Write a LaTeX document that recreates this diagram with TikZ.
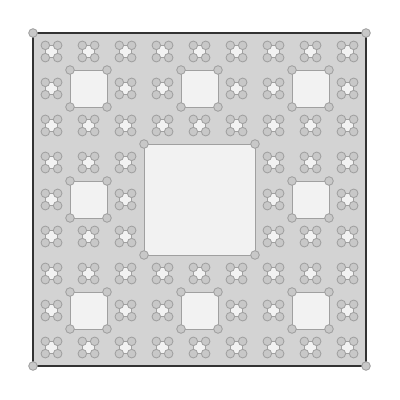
\documentclass[tikz,border=0pt]{standalone}
\usepackage{tikz}
\definecolor{carpetgray}{HTML}{D3D3D3}
\definecolor{holegray}{HTML}{F2F2F2}
\definecolor{dotgray}{HTML}{C8C8C8}
\definecolor{edgegray}{HTML}{A0A0A0}
% one hole of the carpet: lower left corner (#1,#2), side #3
\newcommand\carpethole[3]{%
  \draw[hole] (#1,#2) rectangle ++(#3,#3);
  \foreach \cx/\cy in {0/0,1/0,0/1,1/1}
    \draw[vertex] (#1+\cx*#3,#2+\cy*#3) circle (4.3);
}
\begin{document}
\begin{tikzpicture}[x=0.025cm,y=-0.025cm,
carpet/.style={fill=carpetgray, draw=black!80, line width=0.8pt},
hole/.style={fill=holegray, draw=edgegray, line width=0.7pt},
vertex/.style={fill=dotgray, draw=edgegray, line width=0.6pt}
]
\useasboundingbox (0,0) rectangle (400,400);
% Outer square
\draw[carpet] (33,33) rectangle (366,366);
\foreach \cx/\cy in {33/33,366/33,33/366,366/366}
  \draw[vertex] (\cx,\cy) circle (4.3);
% Level 1
\carpethole{144}{144}{111}
% Level 2 and level 3
\foreach \i in {0,1,2}{
  \foreach \j in {0,1,2}{
    \ifnum\numexpr\i*3+\j\relax=4 \else
      \pgfmathsetmacro\bx{33+111*\i}
      \pgfmathsetmacro\by{33+111*\j}
      \carpethole{\bx+37}{\by+37}{37}
      \foreach \k in {0,1,2}{
        \foreach \l in {0,1,2}{
          \ifnum\numexpr\k*3+\l\relax=4 \else
            \carpethole{\bx+37*\k+12.333}{\by+37*\l+12.333}{12.333}
          \fi
        }
      }
    \fi
  }
}
\end{tikzpicture}
\end{document}
